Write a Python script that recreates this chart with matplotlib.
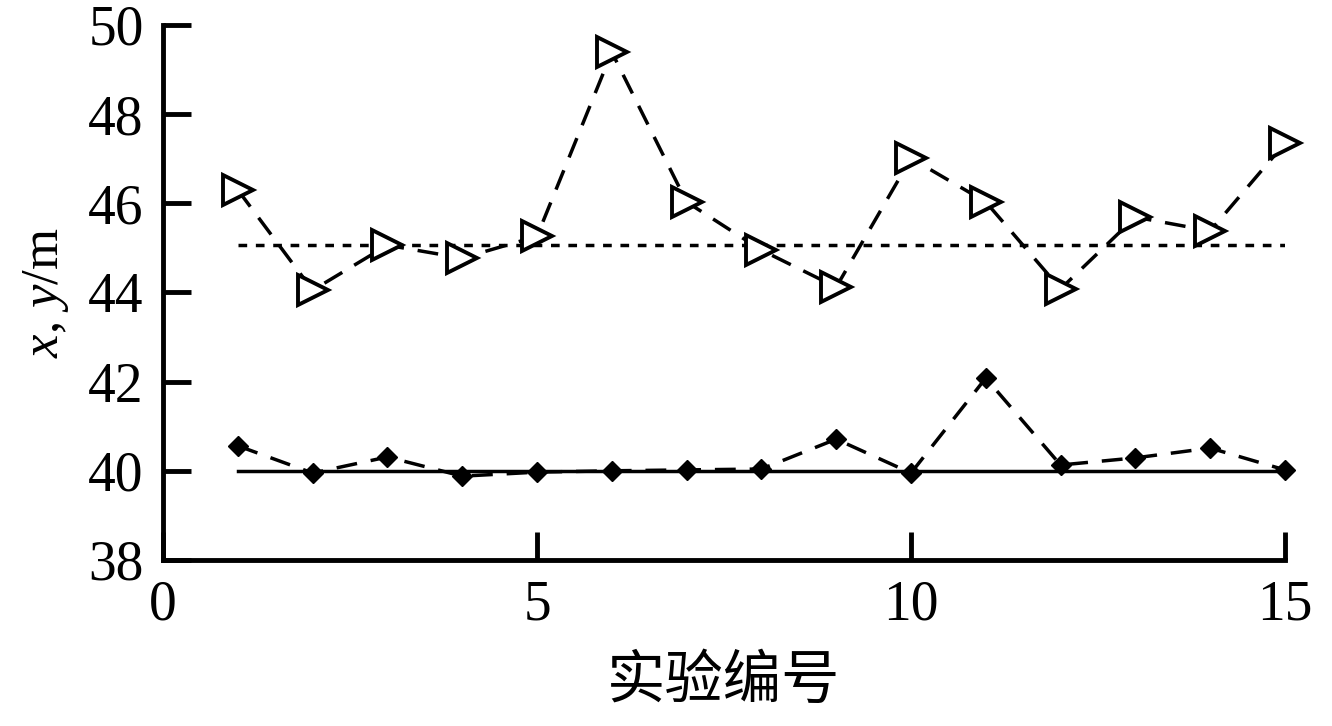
import matplotlib
matplotlib.use("Agg")
import matplotlib.pyplot as plt

plt.rcParams['font.family'] = ['Liberation Serif', 'Noto Sans CJK SC']
plt.rcParams['mathtext.fontset'] = 'custom'
plt.rcParams['mathtext.it'] = 'Liberation Serif:italic'
plt.rcParams['mathtext.rm'] = 'Liberation Serif'

# experiment number
runs = list(range(1, 16))
# estimated x positions (triangles) and y positions (diamonds)
x_est = [46.3, 44.05, 45.06, 44.77, 45.26, 49.39, 46.03, 44.95, 44.12,
         47.01, 46.03, 44.08, 45.69, 45.38, 47.35]
y_est = [40.56, 39.95, 40.31, 39.88, 39.97, 40.0, 40.02, 40.04, 40.71,
         39.95, 42.08, 40.13, 40.29, 40.51, 40.02]
x_true = 45.06
y_true = 40.0

fig = plt.figure(figsize=(13.32, 7.26), dpi=100)
ax = fig.add_axes([0.1224, 0.2287, 0.8423, 0.7369])

ax.plot([runs[0], runs[-1]], [x_true, x_true], color='black', lw=2.5,
        linestyle=(0, (2.5, 2.5)))
ax.plot([runs[0], runs[-1]], [y_true, y_true], color='black', lw=2.5)
ax.plot(runs, x_est, color='black', lw=2.5, linestyle=(0, (6, 4)),
        marker='>', markersize=22, markerfacecolor='white',
        markeredgecolor='black', markeredgewidth=2.8, clip_on=False)
ax.plot(runs, y_est, color='black', lw=2.5, linestyle=(0, (6, 4)),
        marker='D', markersize=10, markerfacecolor='black',
        markeredgecolor='black', clip_on=False)

ax.set_xlim(0, 15)
ax.set_ylim(38, 50)
ax.set_xticks([0, 5, 10, 15])
ax.set_yticks([38, 40, 42, 44, 46, 48, 50])
for s in ['top', 'right']:
    ax.spines[s].set_visible(False)
for s in ['left', 'bottom']:
    ax.spines[s].set_linewidth(3.5)
ax.tick_params(direction='in', length=20, width=3.5, labelsize=40)
ax.tick_params(axis='y', pad=14)
ax.tick_params(axis='x', pad=14)

ax.set_xlabel('实验编号', fontsize=42, family=['Noto Sans CJK SC'], labelpad=14)
ax.set_ylabel('$x$, $y$/m', fontsize=38, labelpad=12)

fig.savefig('out.png', dpi=100)
